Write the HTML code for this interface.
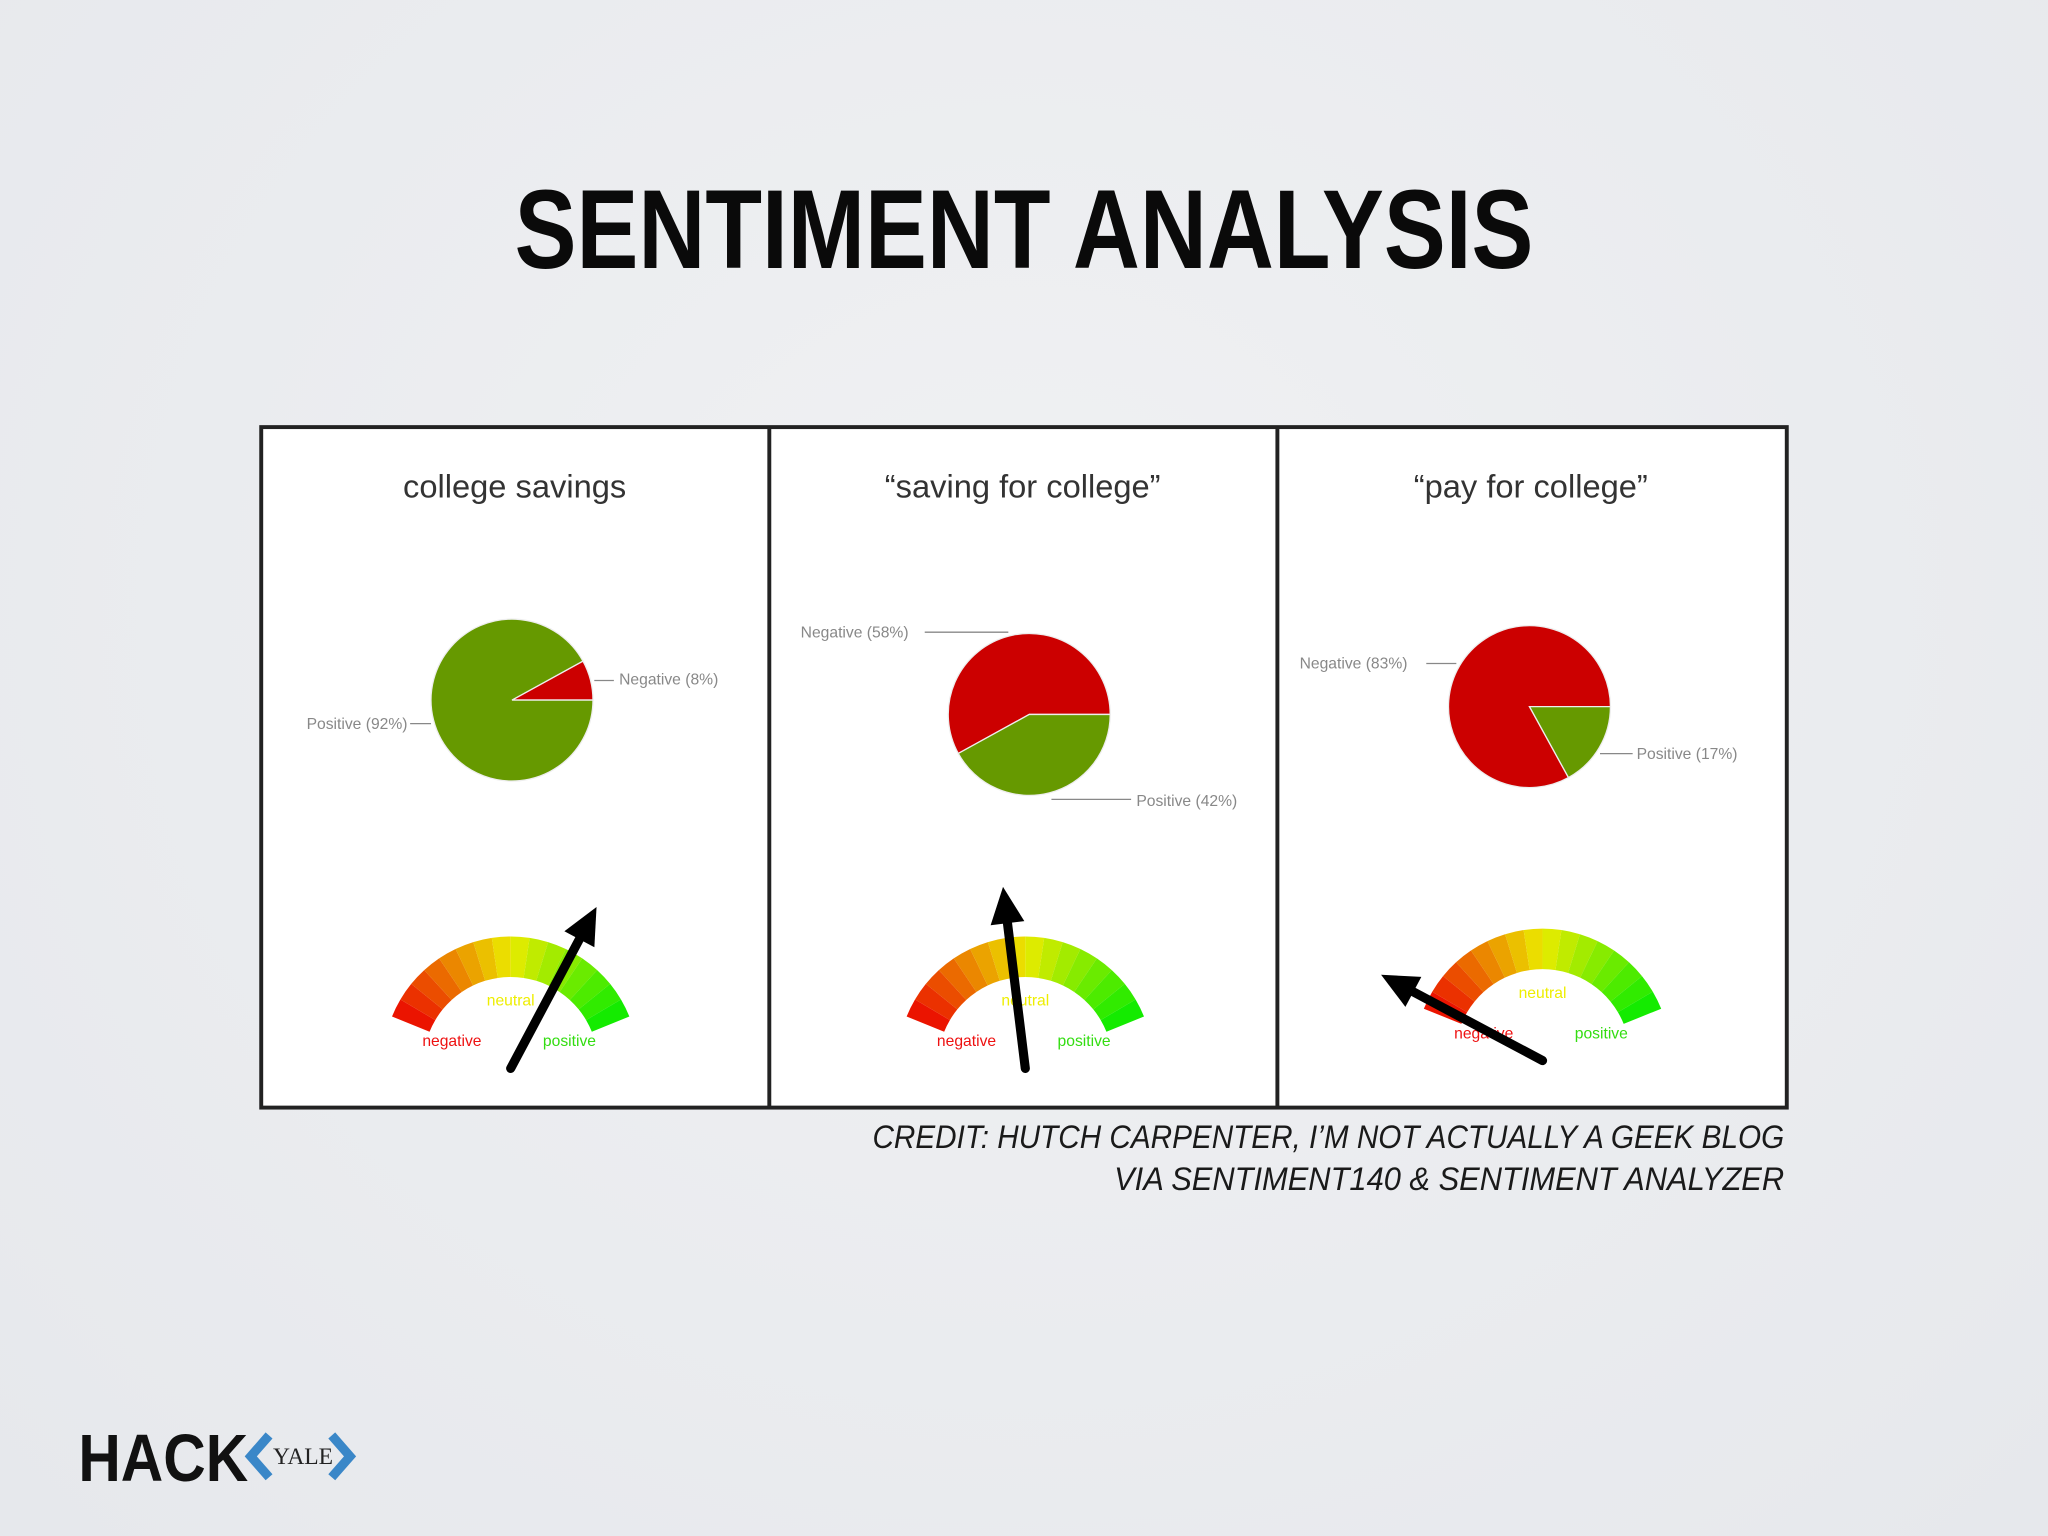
<!DOCTYPE html>
<html><head><meta charset="utf-8"><style>
html,body{margin:0;padding:0;width:2048px;height:1536px;overflow:hidden;background:radial-gradient(ellipse at 50% 40%,#f0f1f3 0%,#e6e8ec 100%);}
svg{display:block}
</style></head><body>
<svg id="s" width="2048" height="1536" viewBox="0 0 1568 1176" xmlns="http://www.w3.org/2000/svg">
<text x="784" y="205" text-anchor="middle" font-family="Liberation Sans, sans-serif" font-weight="bold" font-size="86" textLength="780" lengthAdjust="spacingAndGlyphs" fill="#0a0a0a">SENTIMENT ANALYSIS</text>
<rect x="200" y="327" width="1168" height="521" fill="#fff" stroke="#222" stroke-width="3"/>
<line x1="589" y1="327" x2="589" y2="848" stroke="#222" stroke-width="3"/>
<line x1="978" y1="327" x2="978" y2="848" stroke="#222" stroke-width="3"/>
<g id="panels"></g>
<text x="1366" y="879" text-anchor="end" font-family="Liberation Sans, sans-serif" font-style="italic" font-size="25" textLength="698" lengthAdjust="spacingAndGlyphs" fill="#1a1a1a">CREDIT: HUTCH CARPENTER, I’M NOT ACTUALLY A GEEK BLOG</text>
<text x="1366" y="911" text-anchor="end" font-family="Liberation Sans, sans-serif" font-style="italic" font-size="25" textLength="513" lengthAdjust="spacingAndGlyphs" fill="#1a1a1a">VIA SENTIMENT140 &amp; SENTIMENT ANALYZER</text>
<g>
<text x="60" y="1134" font-family="Liberation Sans, sans-serif" font-weight="bold" font-size="51" textLength="130" lengthAdjust="spacingAndGlyphs" fill="#111">HACK</text>
<polyline points="206,1099 192,1115 206,1131" fill="none" stroke="#3a87c8" stroke-width="7"/>
<text x="209" y="1121" font-family="Liberation Serif, serif" font-size="18" fill="#222">YALE</text>
<polyline points="254,1099 268,1115 254,1131" fill="none" stroke="#3a87c8" stroke-width="7"/>
</g>
</svg>
<script>
const titles=["college savings","“saving for college”","“pay for college”"];
const negativeShare=[8,58,83];
const positiveShare=[92,42,17];
const gaugeNeedleDeg=[62,97,152];
const gaugeLabels=["negative","neutral","positive"];
const NS="http://www.w3.org/2000/svg";
const g=document.getElementById('panels');
function el(t,a,p){const e=document.createElementNS(NS,t);for(const k in a)e.setAttribute(k,a[k]);(p||g).appendChild(e);return e;}
const panelX=[200,589,978],pieC=[[392,536],[788,547],[1171,541]],gaugeC=[[391,815],[785,815],[1181,809]];
const negLab=[[474,524,'start',455,470,521],[613,488,'start',708,772,484],[995,512,'start',1092,1115,508]];
const posLab=[[312,558,'end',314,330,554],[870,617,'start',805,866,612],[1253,581,'start',1225,1250,577]];
function pt(cx,cy,r,deg){const a=deg*Math.PI/180;return [cx+r*Math.cos(a),cy-r*Math.sin(a)];}
function sector(cx,cy,r,a0,a1){const p0=pt(cx,cy,r,a0),p1=pt(cx,cy,r,a1);const large=Math.abs(a1-a0)>180?1:0;const sw=a1>a0?0:1;return `M${cx},${cy}L${p0[0]},${p0[1]}A${r},${r} 0 ${large} ${sw} ${p1[0]},${p1[1]}Z`;}
function color(t){let r,gg;if(t<0.5){r=235;gg=Math.round(20+t*2*215);}else{r=Math.round(235-(t-0.5)*2*215);gg=235;}return `rgb(${r},${gg},0)`;}
for(let i=0;i<3;i++){
  const t=el('text',{x:panelX[i]+194,y:381,'text-anchor':'middle','font-family':'Liberation Sans, sans-serif','font-size':25,fill:'#333'});t.textContent=titles[i];
  
  
  const [cx,cy]=pieC[i],r=62,tot=negativeShare[i]+positiveShare[i];
  const negDeg=360*negativeShare[i]/tot;
  const n=el('path',{d:sector(cx,cy,r,0,negDeg),fill:'#cc0000',stroke:'#eee','stroke-width':1});
  
  
  const p=el('path',{d:sector(cx,cy,r,negDeg,360),fill:'#669900',stroke:'#eee','stroke-width':1});
  
  
  [[negLab[i],'Negative ('+negativeShare[i]+'%)','negative'],[posLab[i],'Positive ('+positiveShare[i]+'%)','positive']].forEach(([L,txt,k])=>{
    el('line',{x1:L[3],y1:L[5],x2:L[4],y2:L[5],stroke:'#888','stroke-width':1});
    const lt=el('text',{x:L[0],y:L[1],'text-anchor':L[2],'font-family':'Liberation Sans, sans-serif','font-size':12,fill:'#888'});lt.textContent=txt;
    
    
  });
  const [gx,gy]=gaugeC[i],N=16,a0=158,a1=22;
  for(let s=0;s<N;s++){
    const b0=a0-(a0-a1)*s/N,b1=a0-(a0-a1)*(s+1)/N;
    const o0=pt(gx,gy,98,b0),o1=pt(gx,gy,98,b1),i1=pt(gx,gy,67,b1),i0=pt(gx,gy,67,b0);
    const seg=el('path',{d:`M${o0}A98,98 0 0 1 ${o1}L${i1}A67,67 0 0 0 ${i0}Z`,fill:color(s/(N-1))});
    
    
  }
  const lc=['#ee1111','#eeee00','#33dd11'],lx=[-45,0,45],ly=[-14,-45,-14];
  for(let k=0;k<3;k++){const lt=el('text',{x:gx+lx[k],y:gy+ly[k],'text-anchor':'middle','font-family':'Liberation Sans, sans-serif','font-size':12,fill:lc[k]});lt.textContent=gaugeLabels[k];
    
    }
  const d=gaugeNeedleDeg[i],tip=pt(gx,gy+3,140,d),base=pt(gx,gy+3,0,d),neck=pt(gx,gy+3,112,d);
  const perp=(d+90)*Math.PI/180,w=13;
  el('line',{x1:base[0],y1:base[1],x2:neck[0],y2:neck[1],stroke:'#000','stroke-width':7,'stroke-linecap':'round'});
  const ah=el('polygon',{points:`${tip} ${neck[0]+w*Math.cos(perp)},${neck[1]-w*Math.sin(perp)} ${neck[0]-w*Math.cos(perp)},${neck[1]+w*Math.sin(perp)}`,fill:'#000'});
  
  
}
</script>
</body></html>
